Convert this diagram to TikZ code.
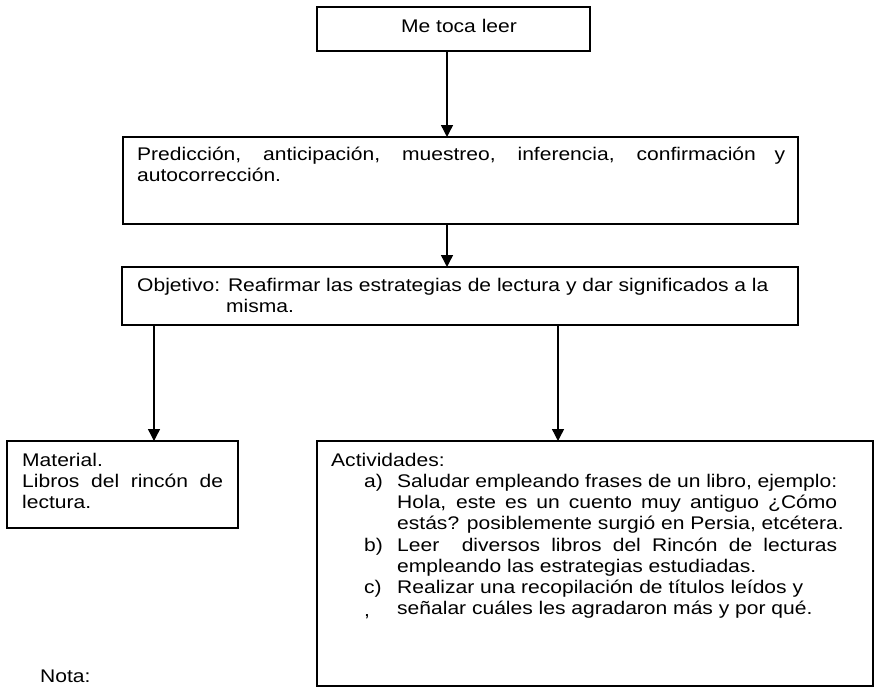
\documentclass[tikz,border=0pt]{standalone}
\usepackage{fontspec}
\setmainfont{Liberation Sans}[FakeStretch=1.15]
\usetikzlibrary{arrows.meta}
\begin{document}
\begin{tikzpicture}[x=1pt,y=-1pt,
  boxnode/.style={draw=black,line width=1.6pt,rectangle,inner sep=0pt,outer sep=0pt,anchor=north west},
  txt/.style={anchor=base west,inner sep=0pt,font=\fontsize{18.3}{21}\selectfont},
  arr/.style={draw=black,line width=1.4pt,-{Triangle[width=12pt,length=12pt]}}]
\fill[white] (0,0) rectangle (877,688);
\useasboundingbox (0,0) rectangle (877,688);
% boxes
\node[boxnode,minimum width=273pt,minimum height=44pt] (b1) at (317,7) {};
\node[boxnode,minimum width=675pt,minimum height=87pt] (b2) at (123,137) {};
\node[boxnode,minimum width=676pt,minimum height=58pt] (b3) at (122,267) {};
\node[boxnode,minimum width=231pt,minimum height=87pt] (bm) at (7,441) {};
\node[boxnode,minimum width=556pt,minimum height=245pt] (ba) at (317,441) {};
% texts
\node[txt,anchor=base] (t1) at (459,32) {Me toca leer};
\node[txt] (t2a) at (137,160) {\makebox[648pt][s]{Predicción, anticipación, muestreo, inferencia, confirmación y}};
\node[txt] (t2b) at (137,181) {autocorrección.};
\node[txt] (t3a) at (137,291) {Objetivo: Reafirmar las estrategias de lectura y dar significados a la};
\node[txt] (t3b) at (226,312) {misma.};
\node[txt] (m1) at (22,466) {Material.};
\node[txt] (m2) at (22,487) {\makebox[201pt][s]{Libros del rincón de}};
\node[txt] (m3) at (22,508) {lectura.};
\node[txt] (a0) at (331,466) {Actividades:};
\node[txt] (la) at (364,487) {a)};
\node[txt] (a1) at (397,487) {\makebox[440pt][s]{Saludar empleando frases de un libro, ejemplo:}};
\node[txt] (a2) at (397,508) {\makebox[440pt][s]{Hola, este es un cuento muy antiguo ¿Cómo}};
\node[txt] (a3) at (397,529.5) {estás? posiblemente surgió en Persia, etcétera.};
\node[txt] (lb) at (364,551) {b)};
\node[txt] (b1t) at (397,551) {\makebox[440pt][s]{Leer\ \ diversos libros del Rincón de lecturas}};
\node[txt] (b2t) at (397,572) {empleando las estrategias estudiadas.};
\node[txt] (lc) at (364,593) {c)};
\node[txt] (c1) at (397,593) {Realizar una recopilación de títulos leídos y};
\node[txt] (lcm) at (364,616) {,};
\node[txt] (c2) at (397,614) {señalar cuáles les agradaron más y por qué.};
\node[txt] (nota) at (40,682) {Nota:};
% connectors
\coordinate (x1) at (447,0);
\coordinate (x2) at (154,0);
\coordinate (x3) at (558,0);
\draw[arr] (b1.south -| x1) -- (b2.north -| x1);
\draw[arr] (b2.south -| x1) -- (b3.north -| x1);
\draw[arr] (b3.south -| x2) -- (bm.north -| x2);
\draw[arr] (b3.south -| x3) -- (ba.north -| x3);
\end{tikzpicture}
\end{document}
